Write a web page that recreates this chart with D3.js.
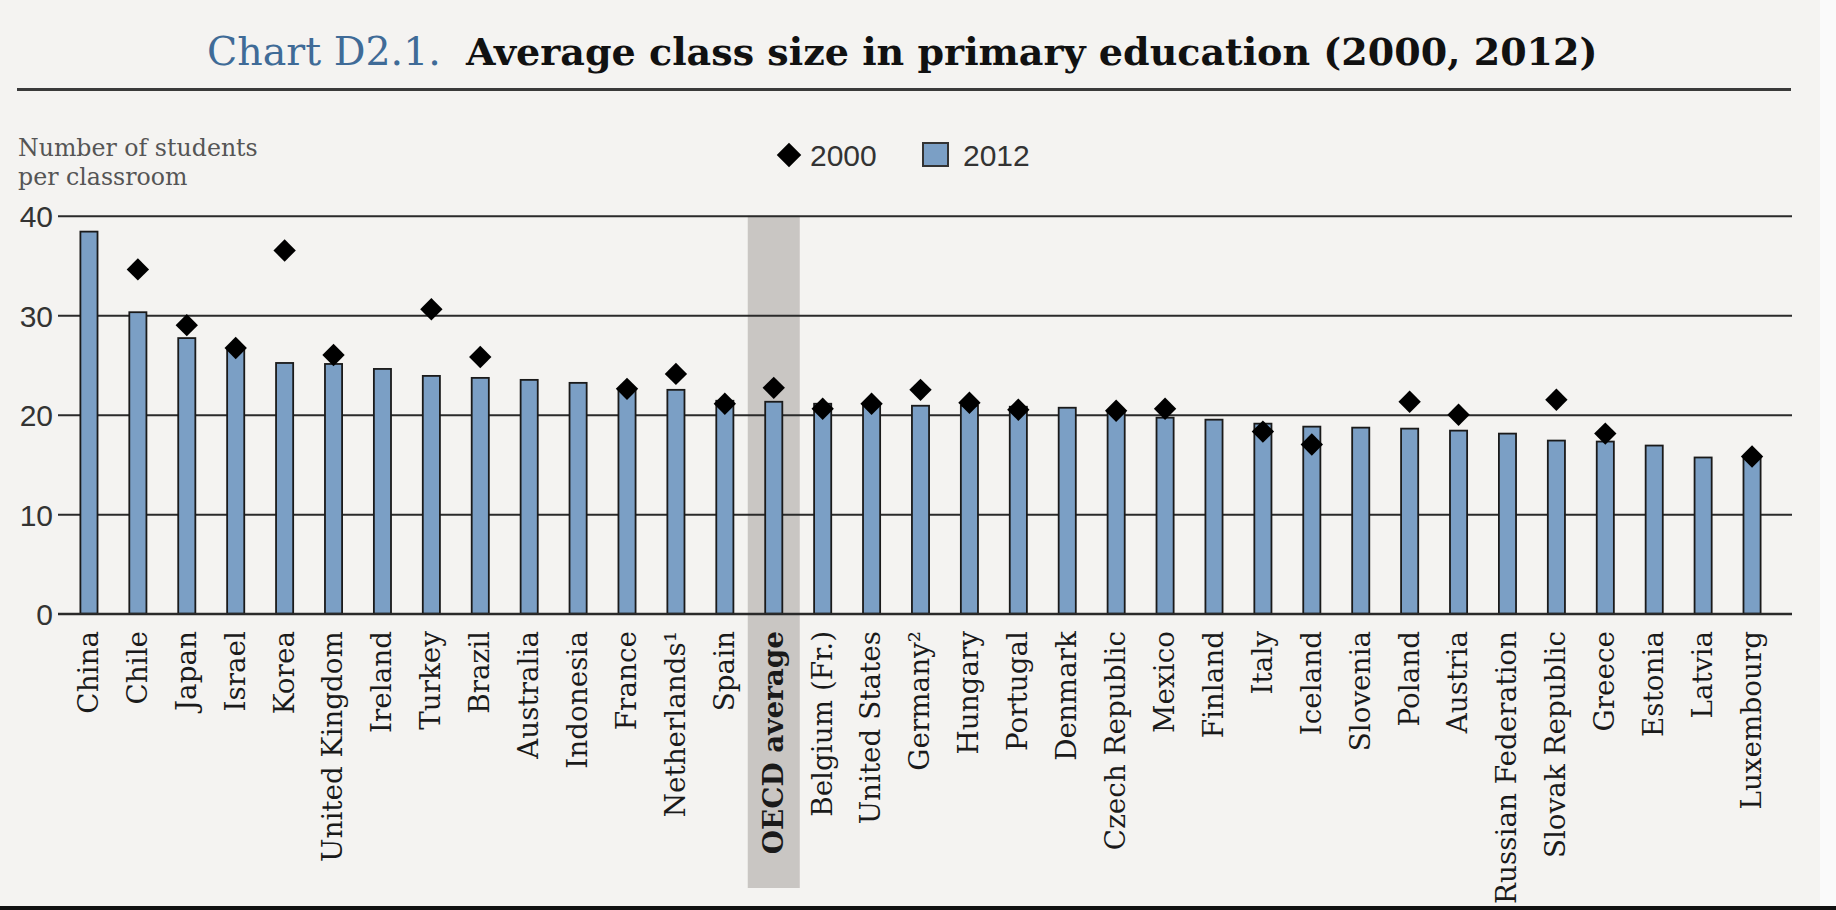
<!DOCTYPE html>
<html>
<head>
<meta charset="utf-8">
<script src="https://cdn.jsdelivr.net/npm/d3@7"></script>
<style>
  html, body { margin: 0; padding: 0; background: #f4f3f1; }
  svg { display: block; }
</style>
</head>
<body>
<svg id="chart" width="1836" height="910"></svg>
<script>
// ---------- data ----------
const categories = ["China","Chile","Japan","Israel","Korea","United Kingdom","Ireland","Turkey","Brazil","Australia","Indonesia","France","Netherlands\u00B9","Spain","OECD average","Belgium (Fr.)","United States","Germany\u00B2","Hungary","Portugal","Denmark","Czech Republic","Mexico","Finland","Italy","Iceland","Slovenia","Poland","Austria","Russian Federation","Slovak Republic","Greece","Estonia","Latvia","Luxembourg"];
const values2012 = [38.4,30.3,27.7,26.5,25.2,25.1,24.6,23.9,23.7,23.5,23.2,22.6,22.5,21.4,21.3,21.1,21.0,20.9,20.9,20.8,20.7,20.3,19.7,19.5,19.1,18.8,18.7,18.6,18.4,18.1,17.4,17.3,16.9,15.7,15.6];
const values2000 = [null,34.6,29.0,26.7,36.5,26.0,null,30.6,25.8,null,null,22.6,24.1,21.1,22.7,20.6,21.1,22.5,21.2,20.5,null,20.4,20.6,null,18.3,17.0,null,21.3,20.0,null,21.5,18.1,null,null,15.8];
const yTicks = [0,10,20,30,40];
const seriesNames = ["2000","2012"];
const highlight = "OECD average";

// ---------- layout ----------
const svg = d3.select("#chart");
const W = 1836, H = 910;
const gridLeft = 58, gridRight = 1792;
const barFill = "#7b9fc5", barStroke = "#1a1a1a";

svg.append("rect").attr("x",0).attr("y",0).attr("width",W).attr("height",H).attr("fill","#f4f3f1");
svg.append("rect").attr("x",1820).attr("y",0).attr("width",16).attr("height",H).attr("fill","#fafafa");

const x = d3.scaleBand().domain(categories).range([64.5, 1776.5]).paddingInner(0.65).paddingOuter(0.325);
const y = d3.scaleLinear().domain([0, 40]).range([613.7, 215.7]);

function fit(sel, target) {
  const w = sel.node().getComputedTextLength();
  const fs = parseFloat(sel.attr("font-size"));
  sel.attr("font-size", fs * target / w);
  return fs * target / w;
}

// ---------- title ----------
const t1 = svg.append("text").attr("x", 207).attr("y", 65)
  .attr("font-family", "DejaVu Serif").attr("font-size", 34).attr("fill", "#3f6b97")
  .text("Chart D2.1.");
fit(t1, 234);
const t2 = svg.append("text").attr("x", 466).attr("y", 65)
  .attr("font-family", "DejaVu Serif").attr("font-weight", "bold").attr("font-size", 34).attr("fill", "#111")
  .text("Average class size in primary education (2000, 2012)");
fit(t2, 1132);
svg.append("line").attr("x1", 17).attr("x2", 1791).attr("y1", 89.5).attr("y2", 89.5)
  .attr("stroke", "#3a3a3a").attr("stroke-width", 3);

// ---------- y-axis title ----------
const yl1 = svg.append("text").attr("x", 18).attr("y", 156)
  .attr("font-family", "DejaVu Serif").attr("font-size", 24).attr("fill", "#555")
  .text("Number of students");
const yfs = fit(yl1, 240);
svg.append("text").attr("x", 18).attr("y", 185)
  .attr("font-family", "DejaVu Serif").attr("font-size", yfs).attr("fill", "#555")
  .text("per classroom");

// ---------- legend ----------
const lg = svg.append("g");
lg.append("path").attr("d", d3.symbol(d3.symbolSquare, 300)())
  .attr("transform", "translate(789,155) rotate(45)").attr("fill", "#000");
lg.append("text").attr("x", 810).attr("y", 166).attr("font-family", "Liberation Sans")
  .attr("font-size", 30).attr("fill", "#333").text(seriesNames[0]);
lg.append("rect").attr("x", 923).attr("y", 143).attr("width", 25).attr("height", 23)
  .attr("fill", barFill).attr("stroke", "#333").attr("stroke-width", 2);
lg.append("text").attr("x", 963).attr("y", 166).attr("font-family", "Liberation Sans")
  .attr("font-size", 30).attr("fill", "#333").text(seriesNames[1]);

// ---------- highlight band ----------
svg.append("rect")
  .attr("x", x(highlight) + x.bandwidth()/2 - 26).attr("width", 52)
  .attr("y", y(40)).attr("height", 888 - y(40))
  .attr("fill", "#c9c6c3");

// ---------- grid / axis ----------
const axis = d3.axisLeft(y).tickValues(yTicks).tickSize(-(gridRight - gridLeft)).tickPadding(5).tickFormat(d3.format("d"));
const ag = svg.append("g").attr("transform", `translate(${gridLeft},0)`).call(axis);
ag.select(".domain").remove();
ag.selectAll(".tick line").attr("stroke", "#2a2a2a").attr("stroke-width", 2);
ag.selectAll(".tick text").attr("font-family", "Liberation Sans").attr("font-size", 30)
  .attr("fill", "#333").attr("dy", "0.36em");

// ---------- bars ----------
svg.append("g").selectAll("rect").data(categories).join("rect")
  .attr("x", d => x(d))
  .attr("width", x.bandwidth())
  .attr("y", (d, i) => y(values2012[i]))
  .attr("height", (d, i) => y(0) - y(values2012[i]))
  .attr("fill", barFill).attr("stroke", barStroke).attr("stroke-width", 1.8);

// zero line on top of bars
svg.append("line").attr("x1", gridLeft).attr("x2", gridRight).attr("y1", y(0)).attr("y2", y(0))
  .attr("stroke", "#2a2a2a").attr("stroke-width", 2);

// ---------- 2000 diamonds ----------
const pts = categories.map((c, i) => ({c, v: values2000[i]})).filter(d => d.v !== null);
svg.append("g").selectAll("path").data(pts).join("path")
  .attr("d", d3.symbol(d3.symbolSquare, 250)())
  .attr("transform", d => `translate(${x(d.c) + x.bandwidth()/2},${y(d.v)}) rotate(45)`)
  .attr("fill", "#000");

// ---------- category labels ----------
const lab = svg.append("g").selectAll("text").data(categories).join("text")
  .attr("transform", d => `translate(${x(d) + x.bandwidth()/2},631) rotate(-90)`)
  .attr("text-anchor", "end").attr("dy", "0.32em")
  .attr("font-family", "DejaVu Serif").attr("font-size", 26)
  .attr("font-weight", d => d === highlight ? "bold" : "normal")
  .attr("fill", "#1a1a1a")
  .text(d => d);
const ukNode = lab.filter(d => d === "United Kingdom");
const labFs = 26 * 231 / ukNode.node().getComputedTextLength();
lab.attr("font-size", labFs);

// ---------- bottom strip ----------
svg.append("rect").attr("x", 0).attr("y", 906).attr("width", W).attr("height", 4).attr("fill", "#111");
</script>
</body>
</html>
